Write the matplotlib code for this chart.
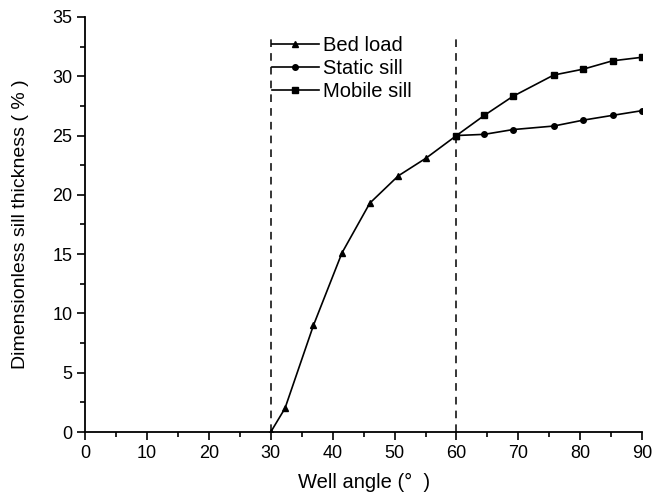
import matplotlib
matplotlib.use("Agg")
import matplotlib.pyplot as plt

plt.rcParams["font.family"] = ["Liberation Sans", "DejaVu Sans"]

# Bed load (30-60 deg), then the two sill cases (60-90 deg)
bed_x = [30, 32.3, 36.9, 41.5, 46.0, 50.6, 55.1, 60.0]
bed_y = [0, 2.0, 9.0, 15.1, 19.3, 21.6, 23.1, 25.0]

static_x = [60.0, 64.5, 69.1, 75.7, 80.5, 85.2, 90.0]
static_y = [25.0, 25.1, 25.5, 25.8, 26.3, 26.7, 27.1]

mobile_x = [60.0, 64.5, 69.1, 75.7, 80.5, 85.2, 90.0]
mobile_y = [25.0, 26.7, 28.3, 30.1, 30.6, 31.3, 31.6]

limits = [30, 60]

fig = plt.figure(figsize=(6.54, 4.98), dpi=100)
ax = fig.add_axes([0.130, 0.1325, 0.852, 0.8335])

for xv in limits:
    ax.plot([xv, xv], [0, 33.5], color="black", linestyle=(0, (5, 4)),
            linewidth=1.1, zorder=1)

ax.plot(bed_x, bed_y, color="black", linewidth=1.2, marker="^",
        markersize=4.5, label="Bed load", zorder=3)
ax.plot(static_x, static_y, color="black", linewidth=1.2, marker="o",
        markersize=4, label="Static sill", zorder=3)
ax.plot(mobile_x, mobile_y, color="black", linewidth=1.2, marker="s",
        markersize=4, label="Mobile sill", zorder=3)

ax.set_xlim(0, 90)
ax.set_ylim(0, 35)
ax.set_xticks(range(0, 91, 10))
ax.set_xticks(range(5, 90, 10), minor=True)
ax.set_yticks(range(0, 36, 5))
ax.set_yticks([2.5 + 5 * i for i in range(7)], minor=True)

ax.spines["top"].set_visible(False)
ax.spines["right"].set_visible(False)
for sp in ("left", "bottom"):
    ax.spines[sp].set_linewidth(1.3)

ax.tick_params(which="major", direction="out", length=6, width=1.2,
               labelsize=13, pad=3)
ax.tick_params(which="minor", direction="out", length=3.5, width=1.2)

ax.set_xlabel("Well angle (°  )", fontsize=14.5, labelpad=8)
ax.set_ylabel("Dimensionless sill thickness ( % )", fontsize=14, labelpad=17)

ax.legend(loc="upper left", bbox_to_anchor=(0.336, 0.953), frameon=False,
          fontsize=14.5, handlelength=2.3, handletextpad=0.2,
          labelspacing=0.18, borderaxespad=0, borderpad=0)

fig.savefig("out.png", dpi=100)
